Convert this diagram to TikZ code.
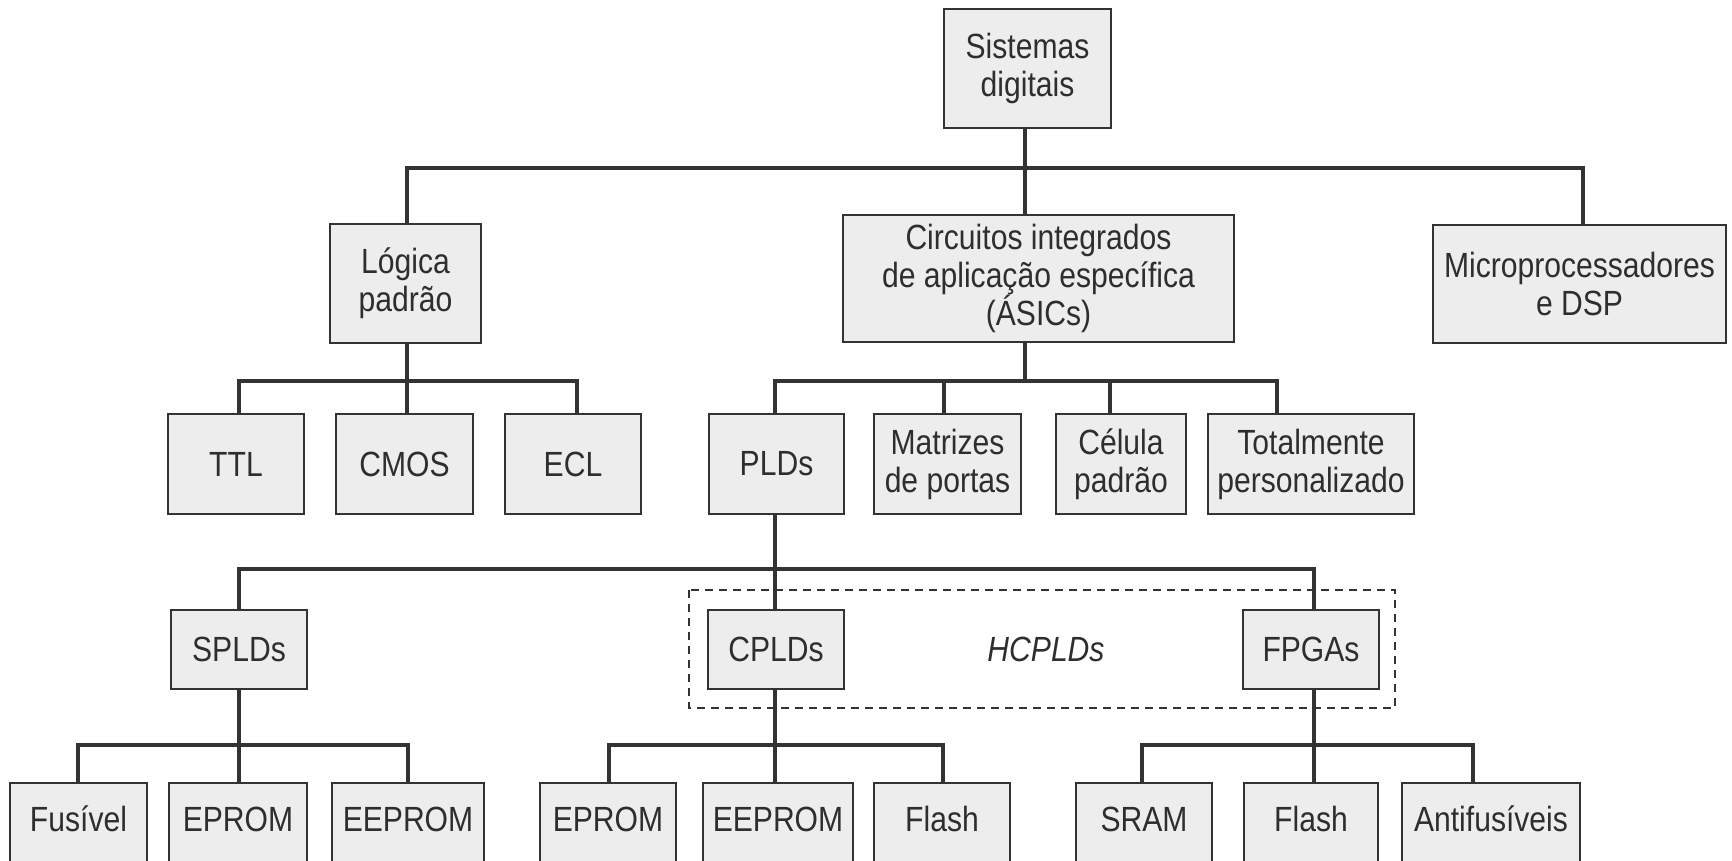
\documentclass[tikz,border=0pt]{standalone}
\usepackage{fontspec}
\setmainfont{Liberation Sans}[FakeStretch=0.86]
\usetikzlibrary{backgrounds}
\definecolor{linec}{HTML}{333333}
\definecolor{boxfill}{HTML}{EDEDED}
\definecolor{txt}{HTML}{2E2E2E}
\tikzset{
  box/.style={draw=linec, fill=boxfill, line width=1.6pt, inner sep=0pt, align=center,
    text=txt, font=\fontsize{35}{38}\selectfont},
  lowbox/.style={box, text height=48pt, text depth=100pt, anchor=base},
  conn/.style={draw=linec, line width=3.5pt},
  bar/.style={draw=linec, line width=4.5pt, line cap=rect},
  hc/.style={draw=linec, line width=1.6pt, dash pattern=on 8pt off 6pt},
}
\begin{document}
\begin{tikzpicture}[x=1pt,y=-1pt]
\useasboundingbox (0,0) rectangle (1732,861);
\clip (0,0) rectangle (1732,861);
% level 0 and 1
\node[box, minimum width=167, minimum height=119] (sis) at (1027.5,68.5) {Sistemas\\digitais};
\node[box, minimum width=151, minimum height=119] (log) at (405.5,283.5) {Lógica\\padrão};
\node[box, minimum width=391, minimum height=127] (asic) at (1038.5,278.5) {Circuitos integrados\\de aplicação específica\\(ÁSICs)};
\node[box, minimum width=293, minimum height=118] (mic) at (1579.5,284) {Microprocessadores\\e DSP};
% level 2
\node[box, minimum width=136, minimum height=100] (ttl) at (236,464) {TTL};
\node[box, minimum width=137, minimum height=100] (cmos) at (404.5,464) {CMOS};
\node[box, minimum width=136, minimum height=100] (ecl) at (573,464) {ECL};
\node[box, minimum width=135, minimum height=100] (plds) at (776.5,464) {PLDs};
\node[box, minimum width=147, minimum height=100] (mat) at (947.5,464) {Matrizes\\de portas};
\node[box, minimum width=130, minimum height=100] (cel) at (1121,464) {Célula\\padrão};
\node[box, minimum width=206, minimum height=100] (tot) at (1311,464) {Totalmente\\personalizado};
% level 3
\node[box, minimum width=136, minimum height=79] (splds) at (239,649.5) {SPLDs};
\node[box, minimum width=136, minimum height=79] (cplds) at (776,649.5) {CPLDs};
\node[box, minimum width=136, minimum height=79] (fpgas) at (1311,649.5) {FPGAs};
\node[text=txt, font=\fontsize{35}{38}\selectfont\itshape, inner sep=0pt] (hcl) at (1046,649) {HCPLDs};
\coordinate (hctl) at (689,590);
\coordinate (hcbr) at (1395,708);
\draw[hc] (hctl) rectangle (hcbr);
% level 4
\node[lowbox, minimum width=137] (fus) at (78.5,831) {Fusível};
\node[lowbox, minimum width=138] (ep1) at (238,831) {EPROM};
\node[lowbox, minimum width=152] (eep1) at (408,831) {EEPROM};
\node[lowbox, minimum width=136] (ep2) at (608,831) {EPROM};
\node[lowbox, minimum width=150] (eep2) at (778,831) {EEPROM};
\node[lowbox, minimum width=136] (fl1) at (942,831) {Flash};
\node[lowbox, minimum width=136] (sram) at (1144,831) {SRAM};
\node[lowbox, minimum width=134] (fl2) at (1311,831) {Flash};
\node[lowbox, minimum width=178] (anti) at (1491,831) {Antifusíveis};
% connectors
\begin{scope}[on background layer]
% level 1
\coordinate (a1l) at (407,168); \coordinate (a1m) at (1025,168); \coordinate (a1r) at (1583,168);
\draw[conn] (sis.south -| a1m) -- (a1m);
\draw[bar] (a1l) -- (a1r);
\draw[conn] (a1l) -- (a1l |- log.north);
\draw[conn] (a1m) -- (a1m |- asic.north);
\draw[conn] (a1r) -- (a1r |- mic.north);
% level 2 left
\coordinate (b1l) at (239,381); \coordinate (b1m) at (407,381); \coordinate (b1r) at (577,381);
\draw[conn] (log.south -| b1m) -- (b1m);
\draw[bar] (b1l) -- (b1r);
\draw[conn] (b1l) -- (b1l |- ttl.north);
\draw[conn] (b1m) -- (b1m |- cmos.north);
\draw[conn] (b1r) -- (b1r |- ecl.north);
% level 2 right
\coordinate (b2a) at (775,381); \coordinate (b2b) at (944,381); \coordinate (b2c) at (1110,381);
\coordinate (b2d) at (1277,381); \coordinate (b2s) at (1025,381);
\draw[conn] (asic.south -| b2s) -- (b2s);
\draw[bar] (b2a) -- (b2d);
\draw[conn] (b2a) -- (b2a |- plds.north);
\draw[conn] (b2b) -- (b2b |- mat.north);
\draw[conn] (b2c) -- (b2c |- cel.north);
\draw[conn] (b2d) -- (b2d |- tot.north);
% level 3
\coordinate (c1) at (239,569); \coordinate (c2) at (775,569); \coordinate (c3) at (1314,569);
\draw[conn] (plds.south -| c2) -- (c2);
\draw[bar] (c1) -- (c3);
\draw[conn] (c1) -- (c1 |- splds.north);
\draw[conn] (c2) -- (c2 |- cplds.north);
\draw[conn] (c3) -- (c3 |- fpgas.north);
% level 4
\coordinate (d1) at (78,745); \coordinate (d2) at (239,745); \coordinate (d3) at (408,745);
\draw[conn] (splds.south -| d2) -- (d2);
\draw[bar] (d1) -- (d3);
\draw[conn] (d1) -- (d1 |- fus.north);
\draw[conn] (d2) -- (d2 |- ep1.north);
\draw[conn] (d3) -- (d3 |- eep1.north);
\coordinate (e1) at (609,745); \coordinate (e2) at (775,745); \coordinate (e3) at (943,745);
\draw[conn] (cplds.south -| e2) -- (e2);
\draw[bar] (e1) -- (e3);
\draw[conn] (e1) -- (e1 |- ep2.north);
\draw[conn] (e2) -- (e2 |- eep2.north);
\draw[conn] (e3) -- (e3 |- fl1.north);
\coordinate (f1) at (1142,745); \coordinate (f2) at (1314,745); \coordinate (f3) at (1473,745);
\draw[conn] (fpgas.south -| f2) -- (f2);
\draw[bar] (f1) -- (f3);
\draw[conn] (f1) -- (f1 |- sram.north);
\draw[conn] (f2) -- (f2 |- fl2.north);
\draw[conn] (f3) -- (f3 |- anti.north);
\end{scope}
\end{tikzpicture}
\end{document}
